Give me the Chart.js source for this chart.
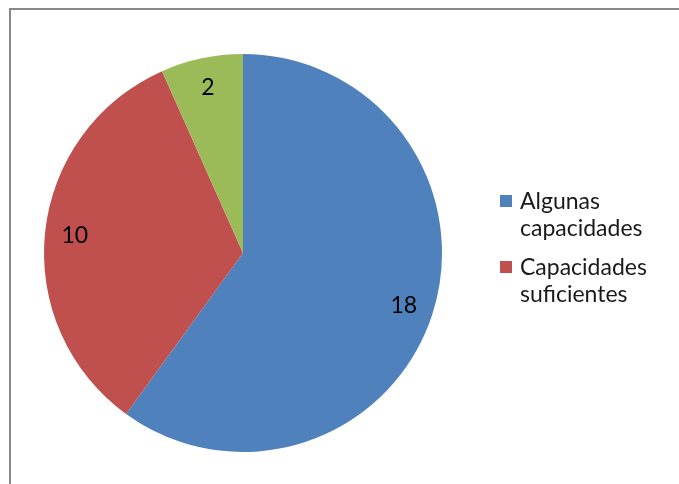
<!DOCTYPE html>
<html lang="es">
  <head>
    <meta charset="utf-8">
    <title>Capacidades</title>
    <script src="https://cdn.jsdelivr.net/npm/chart.js@4.2.1/dist/chart.umd.min.js"></script>
    <style>
      html, body { margin: 0; padding: 0; background: #fff; }
      #wrap { width: 679px; height: 484px; }
    </style>
  </head>
  <body>
    <div id="wrap"><canvas id="chart" width="679" height="484"></canvas></div>

    <script>
    // data
    const categorias = [['Algunas', 'capacidades'], ['Capacidades', 'suficientes'], ['Pocas', 'capacidades']];
    const valores = [18, 10, 2];
    const colores = ['#4F81BD', '#C0504D', '#9BBB59'];
    const enLeyenda = 2; // only the first two entries are visible in the legend

    const fuente = 'Lato, "Open Sans", sans-serif';

    // grey frame of the chart object
    const marco = {
      id: 'marco',
      beforeDraw(chart) {
        const ctx = chart.ctx;
        ctx.save();
        ctx.strokeStyle = '#888888';
        ctx.lineWidth = 2;
        ctx.strokeRect(10, 9, 700, 520);
        ctx.restore();
      }
    };

    // value inside each slice
    const etiquetas = {
      id: 'etiquetas',
      afterDatasetsDraw(chart) {
        const ctx = chart.ctx;
        const meta = chart.getDatasetMeta(0);
        ctx.save();
        ctx.font = '23px ' + fuente;
        ctx.fillStyle = '#000';
        ctx.textAlign = 'center';
        ctx.textBaseline = 'middle';
        meta.data.forEach((arc, i) => {
          const p = arc.getProps(['x', 'y', 'startAngle', 'endAngle', 'outerRadius'], true);
          const mid = (p.startAngle + p.endAngle) / 2;
          const r = p.outerRadius * 0.85;
          ctx.fillText(String(valores[i]), p.x + Math.cos(mid) * r, p.y + Math.sin(mid) * r);
        });
        ctx.restore();
      }
    };

    // legend on the right, two-line labels
    const leyenda = {
      id: 'leyenda',
      afterDraw(chart) {
        const ctx = chart.ctx;
        ctx.save();
        ctx.font = '23px ' + fuente;
        ctx.textBaseline = 'alphabetic';
        let y = 209;
        for (let i = 0; i < enLeyenda; i++) {
          ctx.fillStyle = colores[i];
          ctx.fillRect(500, y - 14, 12, 12);
          ctx.fillStyle = '#1a1a1a';
          categorias[i].forEach((linea, j) => {
            ctx.fillText(linea, 520, y + j * 27);
          });
          y += 66;
        }
        ctx.restore();
      }
    };

    const ctx = document.getElementById('chart').getContext('2d');
    const myChart = new Chart(ctx, {
      type: 'pie',
      data: {
        labels: categorias.map(c => c.join(' ')),
        datasets: [{
          data: valores,
          backgroundColor: colores,
          borderWidth: 0
        }]
      },
      options: {
        responsive: false,
        animation: false,
        layout: {
          padding: { left: 44, top: 54, right: 237, bottom: 32 }
        },
        plugins: {
          legend: { display: false },
          tooltip: { enabled: false }
        }
      },
      plugins: [marco, etiquetas, leyenda]
    });
    </script>
  </body>
</html>
